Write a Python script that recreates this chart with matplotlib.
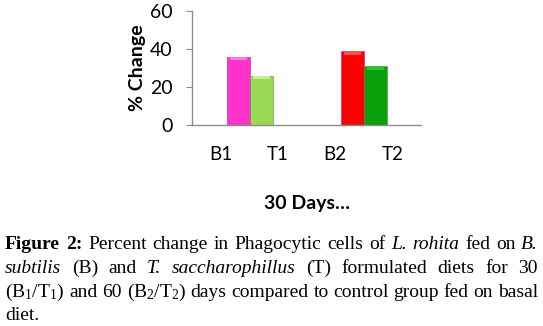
import matplotlib
matplotlib.use("Agg")
import matplotlib.pyplot as plt
import numpy as np

# data
categories = ["B1", "T1", "B2", "T2"]
groups = ["30 days", "60 days"]
b_vals = [36, 39]
t_vals = [26, 31]
b_colors = ["#ff33cc", "#ff0000"]
t_colors = ["#99d955", "#0aa00a"]
b_tops = ["#ff77e0", "#ff5050"]
t_tops = ["#c8f08a", "#30c030"]
yticks = [0, 20, 40, 60]

plt.rcParams["mathtext.fontset"] = "custom"
plt.rcParams["mathtext.rm"] = "Liberation Serif"
plt.rcParams["mathtext.it"] = "Liberation Serif:italic"

fig = plt.figure(figsize=(5.43, 3.26), dpi=100)
ax = fig.add_axes([0.3536, 0.6166, 0.4217, 0.3497])

sans = "Lato"
axc = "#8c8c8c"

gx = np.arange(len(groups)) * 2
w = 0.4
b_x = gx + 0.31
t_x = gx + 0.71
ax.bar(b_x, b_vals, width=w, color=b_colors, edgecolor="#b02080", linewidth=0.4, zorder=2)
ax.bar(t_x, t_vals, width=w, color=t_colors, edgecolor="#5a8a30", linewidth=0.4, zorder=2)
# light bevel at the top of each bar
cap = 2.0
ax.bar(b_x, cap, bottom=np.array(b_vals) - cap, width=w * 0.75, color=b_tops, linewidth=0, zorder=3)
ax.bar(t_x, cap, bottom=np.array(t_vals) - cap, width=w * 0.75, color=t_tops, linewidth=0, zorder=3)

ax.set_xlim(-0.5, 3.5)
ax.set_ylim(0, 60)
ax.set_yticks(yticks)
ax.set_yticklabels([str(v) for v in yticks], fontsize=14, family=sans)
ax.set_xticks(range(len(categories)))
ax.set_xticklabels(categories, fontsize=13.5, family=sans)
ax.tick_params(axis="y", length=4, color=axc, pad=10)
ax.tick_params(axis="x", length=0, pad=15)
for s in ["top", "right"]:
    ax.spines[s].set_visible(False)
for s in ["left", "bottom"]:
    ax.spines[s].set_color(axc)
    ax.spines[s].set_linewidth(1.0)
ax.spines["bottom"].set_zorder(4)
ax.set_facecolor("none")

fig.text(137 / 543, 1 - 68 / 326, "% Change", rotation=90, ha="center", va="center",
         fontsize=14, fontweight="bold", family=sans)
fig.text(307 / 543, 1 - 203 / 326, "30 Days\u2026", ha="center", va="center",
         fontsize=14, fontweight="bold", family=sans)

# caption, justified like the journal layout
serif = "Liberation Serif"
fs = 14
caption = [
    [("Figure 2:", "bold"), ("Percent change in Phagocytic cells of", "normal"),
     ("L. rohita", "italic"), ("fed on", "normal"), ("B.", "italic")],
    [("subtilis", "italic"), ("(B) and", "normal"), ("T. saccharophillus", "italic"),
     ("(T) formulated diets for 30", "normal")],
    [(r"$\mathrm{(B_1/T_1)}$", "math"), ("and 60", "normal"), (r"$\mathrm{(B_2/T_2)}$", "math"),
     ("days compared to control group fed on basal", "normal")],
    [("diet.", "normal")],
]
baselines = [249, 273, 297, 320]
x0, x1 = 5, 538

renderer = fig.canvas.get_renderer()
for li, (segs, yb) in enumerate(zip(caption, baselines)):
    words = []
    for txt, st in segs:
        parts = [txt] if st == "math" else txt.split(" ")
        for p in parts:
            words.append((p, st))
    objs = []
    for p, st in words:
        kw = dict(fontsize=fs, family=serif, ha="left", va="baseline")
        if st == "bold":
            kw["fontweight"] = "bold"
        elif st == "italic":
            kw["fontstyle"] = "italic"
        t = fig.text(0, 1 - yb / 326, p, **kw)
        objs.append(t)
    widths = [t.get_window_extent(renderer).width for t in objs]
    if li < len(caption) - 1 and len(objs) > 1:
        gap = (x1 - x0 - sum(widths)) / (len(objs) - 1)
    else:
        gap = 4
    x = x0
    for t, wd in zip(objs, widths):
        t.set_x(x / 543)
        x += wd + gap

fig.savefig("out.png", dpi=100)
